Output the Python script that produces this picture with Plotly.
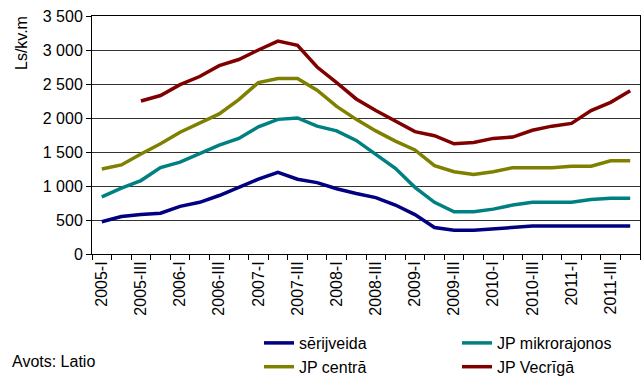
import plotly.graph_objects as go

quarters = [f"{y}-{q}" for y in range(2005, 2012) for q in ["I", "II", "III", "IV"]]
tick_labels = [q if q.endswith("-I") or q.endswith("-III") else "" for q in quarters]

serijveida = [475, 550, 580, 600, 700, 760, 860, 980, 1100, 1200, 1100, 1050,
              960, 890, 830, 720, 580, 390, 350, 350, 370, 390, 410, 410,
              410, 410, 410, 410]
jp_mikrorajonos = [840, 970, 1080, 1270, 1350, 1470, 1600, 1700, 1870, 1980, 2000, 1880,
                   1810, 1670, 1470, 1260, 980, 760, 620, 620, 660, 720, 760, 760,
                   760, 800, 820, 820]
jp_centra = [1250, 1310, 1470, 1620, 1790, 1930, 2060, 2270, 2520, 2580, 2580, 2410,
             2170, 1980, 1810, 1660, 1530, 1300, 1210, 1170, 1210, 1270, 1270, 1270,
             1290, 1290, 1370, 1370]
jp_vecriga = [None, None, 2250, 2330, 2490, 2610, 2770, 2860, 3000, 3130, 3070, 2750,
              2520, 2280, 2110, 1950, 1800, 1740, 1620, 1640, 1700, 1720, 1820, 1880,
              1920, 2110, 2230, 2400]

series = [
    ("sērijveida", serijveida, "#000080"),
    ("JP mikrorajonos", jp_mikrorajonos, "#008080"),
    ("JP centrā", jp_centra, "#808000"),
    ("JP Vecrīgā", jp_vecriga, "#800000"),
]

FONT = "Arial, Liberation Sans, sans-serif"

fig = go.Figure()
for name, vals, color in series:
    fig.add_trace(go.Scatter(x=quarters, y=vals, name=name, mode="lines",
                             line=dict(color=color, width=3.5), connectgaps=False))

fig.update_layout(
    width=643, height=376,
    margin=dict(l=92, r=3, t=16, b=122, autoexpand=False),
    paper_bgcolor="white", plot_bgcolor="white",
    font=dict(family=FONT, size=16, color="black"),
    separators=", ",
    showlegend=True,
    legend=dict(orientation="h", x=259 / 643, xref="container", xanchor="left",
                y=1 - 326 / 376, yref="container", yanchor="top",
                entrywidth=153, entrywidthmode="pixels", traceorder="normal",
                font=dict(size=16), bgcolor="rgba(0,0,0,0)", tracegroupgap=0),
)
fig.update_xaxes(
    type="category", categoryorder="array", categoryarray=quarters,
    range=[-0.5, len(quarters) - 0.5],
    tickmode="array", tickvals=quarters, ticktext=tick_labels,
    tickangle=-90, tickson="boundaries", ticks="outside", ticklen=5,
    tickcolor="black", showline=True, linecolor="black", linewidth=1,
    mirror=True, showgrid=False, tickfont=dict(size=16), automargin=False,
)
fig.update_yaxes(
    range=[0, 3500], dtick=500, tickformat=",d", ticks="outside", ticklen=5,
    tickcolor="black", showline=True, linecolor="black", linewidth=1, mirror=True,
    showgrid=True, gridcolor="#333333", gridwidth=1, zeroline=False,
    tickfont=dict(size=16), automargin=False,
)
fig.add_annotation(text="Ls/kv.m", textangle=-90, xref="paper", yref="paper",
                   x=(21 - 92) / 548, y=1 + 2 / 238, xanchor="center", yanchor="top",
                   showarrow=False, font=dict(size=16))
fig.add_annotation(text="Avots: Latio", xref="paper", yref="paper",
                   x=(10 - 92) / 548, y=(254 - 361) / 238, xanchor="left", yanchor="middle",
                   showarrow=False, font=dict(size=16))

fig.write_html("out.html", config={"displayModeBar": False},
               post_script="document.body.style.margin='0';document.body.style.padding='0';")
